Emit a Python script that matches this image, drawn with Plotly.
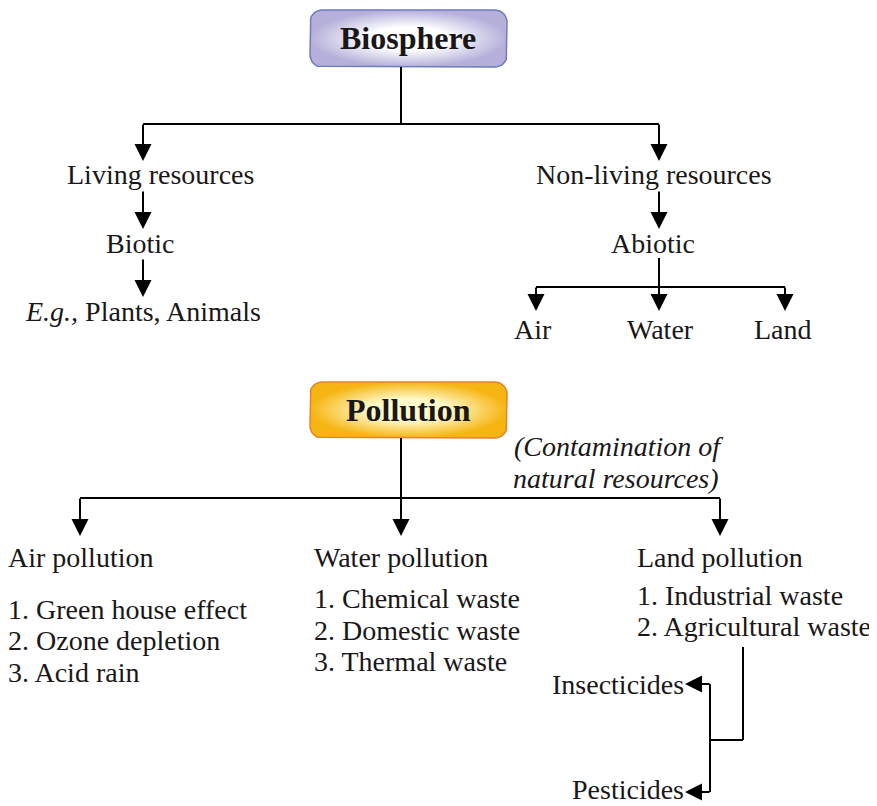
import plotly.graph_objects as go
import numpy as np

# ---- content ----
title_top = "Biosphere"
title_bottom = "Pollution"
branch_labels = ["Living resources", "Non-living resources"]
living_chain = ["Biotic", "<i>E.g.,</i> Plants, Animals"]
nonliving_chain = ["Abiotic"]
abiotic_items = ["Air", "Water", "Land"]
pollution_note = ["(Contamination of", "natural resources)"]
pollution_types = ["Air pollution", "Water pollution", "Land pollution"]
air_items = ["1. Green house effect", "2. Ozone depletion", "3. Acid rain"]
water_items = ["1. Chemical waste", "2. Domestic waste", "3. Thermal waste"]
land_items = ["1. Industrial waste", "2. Agricultural waste"]
agri_items = ["Insecticides", "Pesticides"]

W, H = 877, 806
OFF = 8  # page body margin
FONT = "Liberation Serif"
FS = 28
LW = 2

fig = go.Figure()
shapes = []
annots = []


def line(x0, y0, x1, y1):
    shapes.append(dict(type="line", x0=x0, y0=y0, x1=x1, y1=y1, xref="x", yref="y",
                       line=dict(color="black", width=LW)))


def arrow(x0, y0, x1, y1):
    annots.append(dict(x=x1, y=y1, ax=x0, ay=y0, xref="x", yref="y", axref="x", ayref="y",
                       showarrow=True, arrowhead=2, arrowsize=1.7, arrowwidth=LW,
                       arrowcolor="black", text=""))


def text(x, y, s, size=FS, anchor="center", bold=False, italic=False, xshift=0):
    if bold:
        s = "<b>" + s + "</b>"
    if italic:
        s = "<i>" + s + "</i>"
    annots.append(dict(x=x, y=y, xref="x", yref="y", text=s, showarrow=False,
                       xanchor=anchor, yanchor="middle", borderpad=0, xshift=xshift,
                       font=dict(family=FONT, size=size, color="#1a1718")))


def rounded_box(x0, y0, x1, y1, r, edge, inner, border):
    pts = []
    corners = [(x1 - r, y0 + r, -90, 0), (x1 - r, y1 - r, 0, 90),
               (x0 + r, y1 - r, 90, 180), (x0 + r, y0 + r, 180, 270)]
    for cx, cy, a0, a1 in corners:
        for a in np.linspace(np.radians(a0), np.radians(a1), 10):
            pts.append((cx + r * np.cos(a), cy + r * np.sin(a)))
    pts.append(pts[0])
    xs, ys = zip(*pts)
    fig.add_trace(go.Scatter(x=xs, y=ys, mode="lines", fill="toself",
                             fillgradient=dict(type="radial",
                                               colorscale=[[0, inner], [0.4, inner], [1, edge]]),
                             line=dict(color=border, width=1.5), hoverinfo="skip",
                             showlegend=False))


# ---- Biosphere tree ----
rounded_box(310, 10, 507, 67, 12, "#b4b0da", "#ffffff", "#6c7cc0")
text(408, 38, title_top, size=32, bold=True)
line(401, 67, 401, 124)
line(143, 124, 659, 124)
arrow(143, 123, 143, 161)
arrow(659, 123, 659, 161)
text(160, 174, branch_labels[0])
text(654, 174, branch_labels[1])
arrow(143, 190, 143, 229)
text(140, 243, living_chain[0])
arrow(143, 258, 143, 297)
text(143, 311, living_chain[1])
arrow(659, 190, 659, 229)
text(653, 243, nonliving_chain[0])
line(659, 258, 659, 287)
line(536, 287, 785, 287)
for xa in (536, 659, 785):
    arrow(xa, 286, xa, 311)
for xa, lab in zip((533, 660, 783), abiotic_items):
    text(xa, 329, lab)

# ---- Pollution tree ----
rounded_box(310, 382, 507, 438, 12, "#f6b512", "#fff9c8", "#e6822a")
text(408, 410, title_bottom, size=32, bold=True)
text(618, 446, pollution_note[0], italic=True)
text(616, 478, pollution_note[1], italic=True)
line(401, 438, 401, 498)
line(80, 498, 720, 498)
for xa in (80, 401, 720):
    arrow(xa, 497, xa, 536)
for xa, lab in zip((OFF + 0.5, 313, 636), pollution_types):
    text(xa, 557, lab, anchor="left", xshift=-2 if xa < 20 else 0)
for yy, lab in zip((609, 640, 672), air_items):
    text(OFF + 0.5, yy, lab, anchor="left", xshift=-2)
for yy, lab in zip((598, 630, 661), water_items):
    text(313, yy, lab, anchor="left")
for yy, lab in zip((595, 626), land_items):
    text(636, yy, lab, anchor="left")

line(743, 647, 743, 740)
line(743, 740, 710, 740)
line(710, 684, 710, 792)
arrow(711, 684, 685, 684)
arrow(711, 792, 685, 792)
for yy, lab in zip((684, 789), agri_items):
    text(685, yy, lab, anchor="right")

fig.update_layout(
    width=W - OFF, height=H - OFF, margin=dict(l=0, r=0, t=0, b=0),
    paper_bgcolor="white", plot_bgcolor="white",
    xaxis=dict(range=[OFF, W], visible=False, fixedrange=True),
    yaxis=dict(range=[H, OFF], visible=False, fixedrange=True),
    shapes=shapes, annotations=annots, showlegend=False,
)
fig.write_html("out.html")
